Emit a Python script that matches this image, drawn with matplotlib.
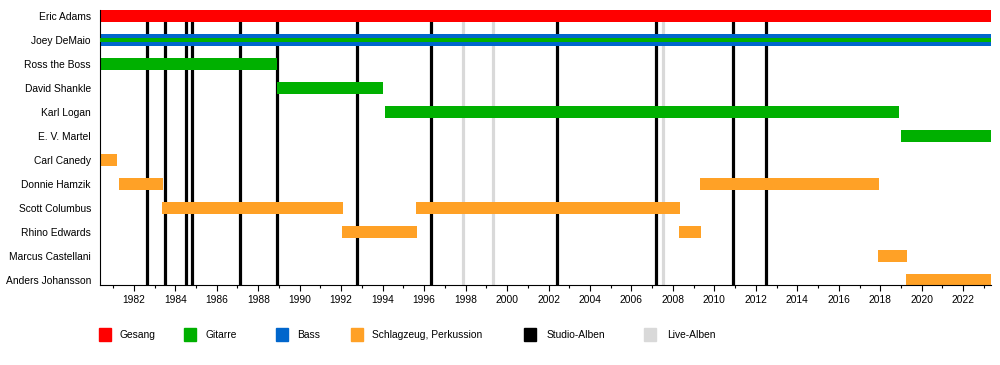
import matplotlib.pyplot as plt
from matplotlib.patches import Rectangle

plt.rcParams['font.family'] = ['Liberation Sans', 'DejaVu Sans']

# Mitglieder (oben nach unten)
namen = ['Eric Adams', 'Joey DeMaio', 'Ross the Boss', 'David Shankle', 'Karl Logan',
         'E. V. Martel', 'Carl Canedy', 'Donnie Hamzik', 'Scott Columbus',
         'Rhino Edwards', 'Marcus Castellani', 'Anders Johansson']

start = 1980.37
ende = 2023.34

# (Name, von, bis, Rolle)
perioden = [
    ('Eric Adams', start, ende, 'Gesang'),
    ('Joey DeMaio', start, ende, 'Bass'),
    ('Ross the Boss', start, 1988.91, 'Gitarre'),
    ('David Shankle', 1988.91, 1994.0, 'Gitarre'),
    ('Karl Logan', 1994.12, 2018.9, 'Gitarre'),
    ('E. V. Martel', 2019.0, ende, 'Gitarre'),
    ('Carl Canedy', start, 1981.2, 'Schlagzeug'),
    ('Donnie Hamzik', 1981.29, 1983.4, 'Schlagzeug'),
    ('Donnie Hamzik', 2009.3, 2017.94, 'Schlagzeug'),
    ('Scott Columbus', 1983.36, 1992.09, 'Schlagzeug'),
    ('Scott Columbus', 1995.61, 2008.34, 'Schlagzeug'),
    ('Rhino Edwards', 1992.04, 1995.64, 'Schlagzeug'),
    ('Rhino Edwards', 2008.29, 2009.35, 'Schlagzeug'),
    ('Marcus Castellani', 2017.9, 2019.3, 'Schlagzeug'),
    ('Anders Johansson', 2019.24, ende, 'Schlagzeug'),
]
# Joey DeMaio spielt auch Gitarre (dünner Streifen im Bass-Balken)
streifen = [('Joey DeMaio', start, ende, 'Gitarre')]

studio_alben = [1982.66, 1983.51, 1984.51, 1984.81, 1987.14, 1988.92, 1992.78,
                1996.35, 2002.4, 2007.19, 2010.91, 2012.5]
live_alben = [1997.89, 1999.34, 2007.53]

farben = {'Gesang': '#FF0000', 'Gitarre': '#00B000', 'Bass': '#0066CC',
          'Schlagzeug': '#FFA126', 'Studio': '#000000', 'Live': '#D9D9D9'}

fs = 7.4

fig = plt.figure(figsize=(10, 3.65), dpi=100)
ax = fig.add_axes([0.1, 0.2192, 0.891, 0.7534])

for x in live_alben:
    ax.axvline(x, color=farben['Live'], lw=2.3, zorder=1)
for x in studio_alben:
    ax.axvline(x, color=farben['Studio'], lw=2.3, zorder=1)

for name, a, b, rolle in perioden:
    i = namen.index(name)
    ax.barh(i, b - a, left=a, height=0.5, color=farben[rolle], zorder=2, linewidth=0)
for name, a, b, rolle in streifen:
    i = namen.index(name)
    ax.barh(i, b - a, left=a, height=0.17, color=farben[rolle], zorder=3, linewidth=0)

ax.set_xlim(start, ende)
ax.set_ylim(11.2, -0.25)
ax.set_yticks(range(len(namen)))
ax.set_yticklabels(namen, fontsize=fs)
ax.tick_params(axis='y', length=0, pad=6.5)

ax.set_xticks(range(1982, 2023, 2))
ax.set_xticks(range(1981, 2024), minor=True)
ax.tick_params(axis='x', which='major', length=4, width=0.8, labelsize=fs, pad=3)
ax.tick_params(axis='x', which='minor', length=2.5, width=0.8)
ax.spines['top'].set_visible(False)
ax.spines['right'].set_visible(False)
ax.spines['left'].set_linewidth(0.8)
ax.spines['bottom'].set_linewidth(0.8)

# Legende
legende = [('Gesang', farben['Gesang'], 99, 120),
           ('Gitarre', farben['Gitarre'], 184, 206),
           ('Bass', farben['Bass'], 276, 297),
           ('Schlagzeug, Perkussion', farben['Schlagzeug'], 351, 372),
           ('Studio-Alben', farben['Studio'], 524, 547),
           ('Live-Alben', farben['Live'], 644, 667)]
for text, farbe, xq, xt in legende:
    fig.add_artist(Rectangle((xq / 1000, (365 - 341) / 365), 12 / 1000, 13 / 365,
                             color=farbe, transform=fig.transFigure))
    fig.text(xt / 1000, (365 - 335) / 365, text, fontsize=fs, va='center', ha='left')

fig.savefig('out.png', dpi=100)
